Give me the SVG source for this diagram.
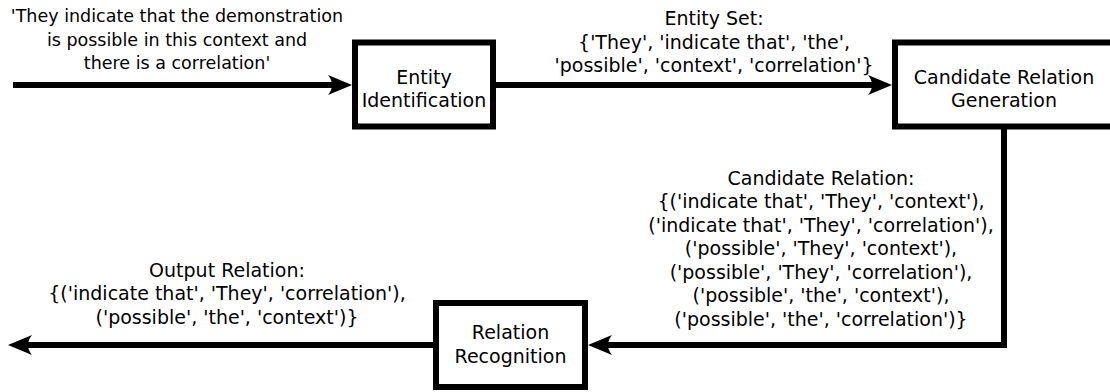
<svg xmlns="http://www.w3.org/2000/svg" width="1110" height="392" viewBox="0 0 1110 392">
<style>
text{font-family:"DejaVu Sans","Noto Sans",sans-serif;font-size:19px;fill:#000;text-anchor:middle}
.in{font-size:17.5px}
.box{fill:#fff;stroke:#000;stroke-width:6}
.line{fill:none;stroke:#000;stroke-width:6}
</style>
<defs>
<marker id="arr" markerUnits="userSpaceOnUse" viewBox="-26 -12 28 24" refX="-12" refY="0" markerWidth="28" markerHeight="24" orient="auto">
<path d="M0,0 L-24,-10 Q-16,0 -24,10 Z" fill="#000"/>
</marker>
</defs>
<g id="connectors">
<path class="line" d="M13,85 H340" marker-end="url(#arr)"/>
<path class="line" d="M493,85 H880" marker-end="url(#arr)"/>
<path class="line" d="M1004,126.5 V345 H600" marker-end="url(#arr)"/>
<path class="line" d="M436,345 H20" marker-end="url(#arr)"/>
</g>
<g id="input-label" class="in">
<text class="in" x="177" y="22">'They indicate that the demonstration</text>
<text class="in" x="177" y="45.5">is possible in this context and</text>
<text class="in" x="177" y="69">there is a correlation'</text>
</g>
<g id="entity-identification">
<rect class="box" x="355" y="42.5" width="138" height="84"/>
<text x="424" y="84">Entity</text>
<text x="424" y="107">Identification</text>
</g>
<g id="entity-set-label">
<text x="714" y="25">Entity Set:</text>
<text x="714" y="48.5">{'They', 'indicate that', 'the',</text>
<text x="714" y="72">'possible', 'context', 'correlation'}</text>
</g>
<g id="candidate-relation-generation">
<rect class="box" x="895" y="42.5" width="220" height="84"/>
<text x="1004" y="84">Candidate Relation</text>
<text x="1004" y="107">Generation</text>
</g>
<g id="candidate-relation-label">
<text x="821" y="184.5">Candidate Relation:</text>
<text x="821" y="208">{('indicate that', 'They', 'context'),</text>
<text x="821" y="231.5">('indicate that', 'They', 'correlation'),</text>
<text x="821" y="255">('possible', 'They', 'context'),</text>
<text x="821" y="278.5">('possible', 'They', 'correlation'),</text>
<text x="821" y="302">('possible', 'the', 'context'),</text>
<text x="821" y="325.5">('possible', 'the', 'correlation')}</text>
</g>
<g id="relation-recognition">
<rect class="box" x="436" y="303" width="149" height="84"/>
<text x="510.5" y="339">Relation</text>
<text x="510.5" y="363">Recognition</text>
</g>
<g id="output-label">
<text x="227" y="276.5">Output Relation:</text>
<text x="227" y="300">{('indicate that', 'They', 'correlation'),</text>
<text x="227" y="323.5">('possible', 'the', 'context')}</text>
</g>
</svg>
